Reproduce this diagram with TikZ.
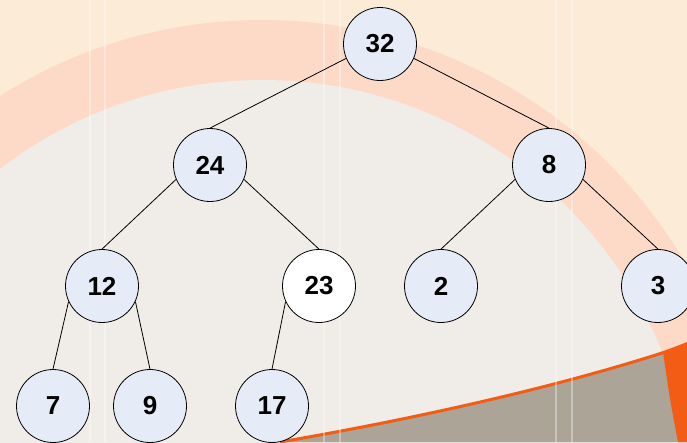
\documentclass[tikz,border=0pt]{standalone}
\usepackage{fontspec}
\setmainfont{Liberation Sans}
\usepackage{tikz}

\definecolor{slidebeige}{HTML}{FCEBD6}
\definecolor{slidepink}{HTML}{FDDAC8}
\definecolor{slidelight}{HTML}{F0ECE8}
\definecolor{slidegrey}{HTML}{ACA496}
\definecolor{slideorange}{HTML}{F25C14}
\definecolor{keyfill}{HTML}{E6ECF7}

\begin{document}
\begin{tikzpicture}[
    x=1pt, y=-1pt,
    key/.style={circle, draw=black, line width=0.8pt, fill=keyfill, minimum size=73pt, inner sep=0pt, font=\fontsize{26}{26}\selectfont\bfseries},
    newkey/.style={key, fill=white},
    edge/.style={line width=0.8pt, color=black}
]
    \useasboundingbox (0,0) rectangle (687,442);

    % Slide background
    \begin{scope}
        \clip (0,0) rectangle (687,442);
        \fill[slidebeige] (0,0) rectangle (687,442);
        \fill[slidepink] (262,510) circle[radius=490];
        \fill[slidelight] (262,510) circle[radius=430];
        \fill[slidegrey] (280,442) .. controls (420,418) and (560,386) .. (665,352) -- (687,344) -- (687,442) -- cycle;
        \draw[slideorange, line width=3pt] (280,442) .. controls (420,418) and (560,386) .. (665,352) -- (687,344);
        \fill[slideorange] (663,352) -- (687,342) -- (687,442) -- (678,442) .. controls (670,400) .. (663,352);
        \foreach \xpos in {90,105,324,340,556,572}
            \draw[white, opacity=0.35, line width=2pt] (\xpos,0) -- (\xpos,442);
    \end{scope}

    % Nodes
    \node[key] (k32) at (380,44) {32};
    \node[key] (k24) at (210,165) {24};
    \node[key] (k8) at (549,165) {8};
    \node[key] (k12) at (102,286) {12};
    \node[newkey] (k23) at (319,286) {23};
    \node[key] (k2) at (441,286) {2};
    \node[key] (k3) at (658,286) {3};
    \node[key] (k7) at (53,406) {7};
    \node[key] (k9) at (150,406) {9};
    \node[key] (k17) at (272,406) {17};

    % Edges
    \draw[edge] (k32.203) -- (k24.north);
    \draw[edge] (k32.-23) -- (k8.north);
    \draw[edge] (k24.203) -- (k12.north);
    \draw[edge] (k24.-23) -- (k23.north);
    \draw[edge] (k8.203) -- (k2.north);
    \draw[edge] (k8.-23) -- (k3.north);
    \draw[edge] (k12.205) -- (k7.north);
    \draw[edge] (k12.-25) -- (k9.north);
    \draw[edge] (k23.205) -- (k17.north);

\end{tikzpicture}
\end{document}
